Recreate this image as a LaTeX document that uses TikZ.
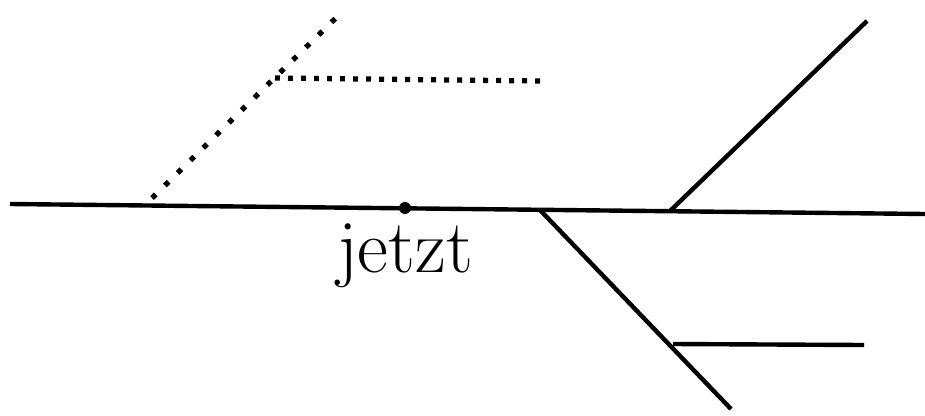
\documentclass[tikz,border=0pt]{standalone}
\usetikzlibrary{positioning}
\tikzset{
  zweig/.style={line width=1.25pt},
  punktiert/.style={line width=1.5pt, dash pattern=on 1.4pt off 2.3pt},
  punktiertschraeg/.style={line width=1.5pt, dash pattern=on 1.5pt off 3.6pt}
}
\begin{document}
\begin{tikzpicture}[x=0.01cm,y=-0.01cm]
\useasboundingbox (0,0) rectangle (925,415);
% Zeitachse
\coordinate (links) at (10,204);
\coordinate (rechts) at (925,214);
\coordinate (punkt) at (405,208);
\coordinate (abzweig1) at (540,210);
\coordinate (abzweig2) at (670,211);
\coordinate (oben) at (867,21);
\coordinate (unten) at (731,409);
\coordinate (abzweig3) at (673,344);
\coordinate (untenrechts) at (864,345);
\draw[zweig] (links) -- (rechts);
\draw[zweig] (abzweig2) -- (oben);
\draw[zweig] (abzweig1) -- (unten);
\draw[zweig] (abzweig3) -- (untenrechts);
% vergangene Moeglichkeiten
\coordinate (start) at (152,198);
\coordinate (ecke) at (275,78);
\coordinate (spitze) at (344,10);
\coordinate (ende) at (540,81);
\draw[punktiertschraeg] (start) -- (spitze);
\draw[punktiert] (ecke) -- (ende);
% jetzt
\fill (punkt) circle[radius=1.7pt];
\node[anchor=base, font=\fontsize{21.5}{26}\selectfont, inner sep=0pt] (jetzt) at (405,272) {jetzt};
\end{tikzpicture}
\end{document}
